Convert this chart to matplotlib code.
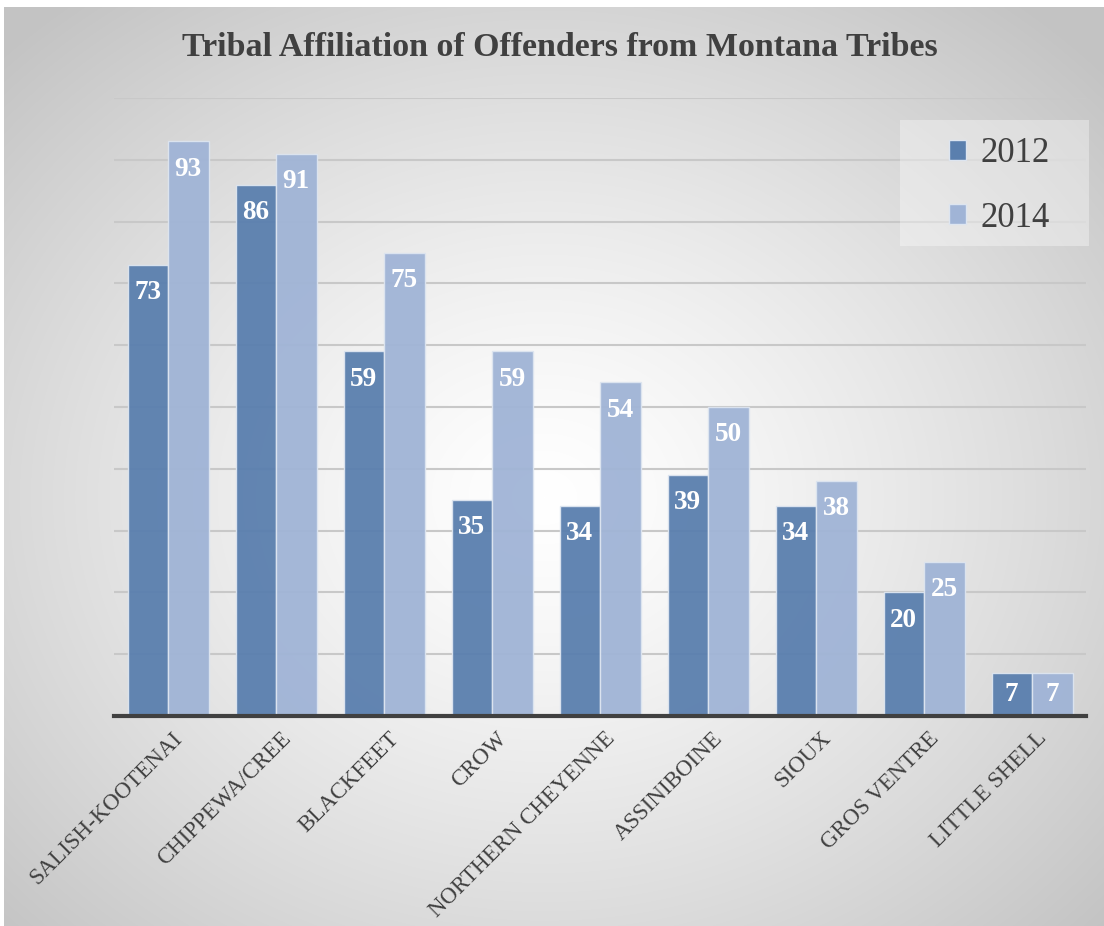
import numpy as np
import matplotlib
matplotlib.use("Agg")
import matplotlib.pyplot as plt
from matplotlib.patches import Patch, Rectangle

# Data
tribes = ["SALISH-KOOTENAI", "CHIPPEWA/CREE", "BLACKFEET", "CROW",
          "NORTHERN CHEYENNE", "ASSINIBOINE", "SIOUX", "GROS VENTRE",
          "LITTLE SHELL"]
counts_2012 = [73, 86, 59, 35, 34, 39, 34, 20, 7]
counts_2014 = [93, 91, 75, 59, 54, 50, 38, 25, 7]
series_labels = ["2012", "2014"]
title = "Tribal Affiliation of Offenders from Montana Tribes"

W, H = 1104, 926
DPI = 100
SERIF = "Liberation Serif"
DARK = "#5a7fae"
LIGHT = "#a0b4d6"
TEXT = "#404040"

fig = plt.figure(figsize=(W / DPI, H / DPI), dpi=DPI, facecolor="white")

# Radial gradient background for the chart area
bg = fig.add_axes([4 / W, 0, 1 - 4 / W, 1 - 7 / H], zorder=-10)
bw, bh = W - 4, H - 7
yy, xx = np.mgrid[0:bh, 0:bw]
cx, cy = 540, 490
r = np.hypot((xx - cx) / 760.0, (yy - cy) / 640.0)
r = np.clip(r, 0, 1)
v = 1.0 - 0.235 * r ** 1.3
img = np.dstack([v, v, v])
bg.imshow(img, aspect="auto", interpolation="bilinear")
bg.set_axis_off()

# Plot area
x0, x1 = 114, 1086
y0, y1 = 716, 98
ax = fig.add_axes([x0 / W, (H - y0) / H, (x1 - x0) / W, (y0 - y1) / H])
ax.patch.set_alpha(0)

n = len(tribes)
x = np.arange(n)
bw_ = 0.375
b1 = ax.bar(x - bw_ / 2, counts_2012, bw_, color=DARK, alpha=0.95,
            edgecolor="#dde5f0", linewidth=1.0, zorder=3)
b2 = ax.bar(x + bw_ / 2, counts_2014, bw_, color=LIGHT, alpha=0.95,
            edgecolor="#dde5f0", linewidth=1.0, zorder=3)

ax.set_xlim(-0.5, n - 0.5)
ax.set_ylim(0, 100)
ax.set_yticks(np.arange(10, 101, 10))
ax.yaxis.grid(True, color="#c8c8c8", linewidth=1.5, zorder=1)
ax.tick_params(axis="y", left=False, labelleft=False)
ax.tick_params(axis="x", bottom=False, pad=5)
for s in ["top", "right", "left"]:
    ax.spines[s].set_visible(False)
ax.spines["bottom"].set_color("#404040")
ax.spines["bottom"].set_linewidth(3.0)
ax.spines["bottom"].set_zorder(5)

ax.set_xticks(x + 0.04)
ax.set_xticklabels(tribes, rotation=45, ha="right", va="top",
                   rotation_mode="anchor", fontsize=16.5, family=SERIF,
                   color=TEXT)

# Value labels inside bar ends
inset = 4.5
for bars, vals in ((b1, counts_2012), (b2, counts_2014)):
    for rect, val in zip(bars, vals):
        cxb = rect.get_x() + rect.get_width() / 2
        ypos = val - inset if val > 2 * inset + 3 else val / 2
        ax.text(cxb, ypos, str(val), ha="center", va="center",
                fontsize=19.5, fontweight="bold", family=SERIF,
                color="white", zorder=6)

# Title
fig.text(560 / W, 1 - 47 / H, title, ha="center", va="center",
         fontsize=24.5, fontweight="bold", family=SERIF, color=TEXT)

# Legend panel and entries
fig.patches.append(Rectangle((900 / W, 1 - 246 / H), 189 / W, 126 / H,
                             transform=fig.transFigure, facecolor="white",
                             alpha=0.35, edgecolor="none", zorder=1))
handles = [Patch(facecolor=DARK, edgecolor="#dde5f0"),
           Patch(facecolor=LIGHT, edgecolor="#dde5f0")]
leg = fig.legend(handles, series_labels, loc="center",
                 bbox_to_anchor=(999 / W, 1 - 186 / H),
                 prop={"family": SERIF, "size": 25},
                 handlelength=0.5, handleheight=0.5, handletextpad=0.4,
                 labelspacing=0.9, borderpad=0.0, frameon=False,
                 labelcolor=TEXT)

fig.savefig("out.png", dpi=DPI, facecolor="white")
